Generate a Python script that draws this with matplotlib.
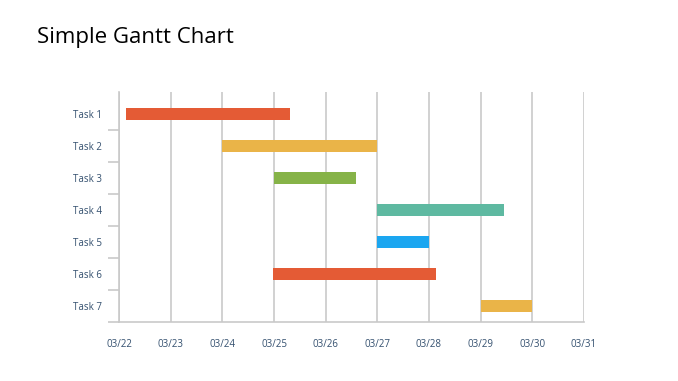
import matplotlib
matplotlib.use("Agg")
import matplotlib.pyplot as plt

tasks = ["Task 1", "Task 2", "Task 3", "Task 4", "Task 5", "Task 6", "Task 7"]
start_day = [22.13, 24.0, 25.0, 27.0, 27.0, 24.98, 29.0]   # day of March
end_day = [25.31, 27.0, 26.59, 29.45, 28.0, 28.13, 30.0]
colors = ["#E45B35", "#EAB448", "#86B348", "#5EB9A1", "#1BA6F0", "#E45B35", "#EAB448"]
tick_days = [22, 23, 24, 25, 26, 27, 28, 29, 30, 31]
tick_labels = ["03/22", "03/23", "03/24", "03/25", "03/26", "03/27", "03/28", "03/29", "03/30", "03/31"]

text_color = "#34506F"
grid_color = "#C9C9C9"

fig = plt.figure(figsize=(6.78, 3.81), dpi=100)
ax = fig.add_axes([119/678, (381-322)/381, (584-119)/678, (322-92)/381])

ys = list(range(len(tasks)))
widths = [e - s for s, e in zip(start_day, end_day)]
ax.barh(ys, widths, left=start_day, height=0.4, color=colors, zorder=3)

ax.set_xlim(22, 31)
ax.set_ylim(6.5, -0.5 - 6/32)
ax.set_xticks(tick_days)
ax.set_xticklabels(tick_labels)
ax.set_yticks(ys)
ax.set_yticklabels(tasks)
ax.set_yticks([i + 0.5 for i in range(len(tasks))], minor=True)

ax.grid(axis="x", color=grid_color, linewidth=1.2, zorder=0)
for s in ["top", "right"]:
    ax.spines[s].set_visible(False)
ax.spines["left"].set_color(grid_color)
ax.spines["bottom"].set_color(grid_color)
ax.spines["left"].set_linewidth(1.2)
ax.spines["bottom"].set_linewidth(1.2)

ax.tick_params(axis="x", length=0, pad=12, labelsize=7, labelcolor=text_color)
ax.tick_params(axis="y", which="major", length=0, pad=12, labelsize=7, labelcolor=text_color)
ax.tick_params(axis="y", which="minor", length=8, width=1.2, color=grid_color)

for lbl in ax.get_xticklabels() + ax.get_yticklabels():
    lbl.set_fontfamily("Open Sans")

fig.text(37/678, 1 - 37/381, "Simple Gantt Chart", fontsize=16, family="Open Sans",
         color="#000000", va="center", ha="left")

fig.savefig("out.png", dpi=100)
